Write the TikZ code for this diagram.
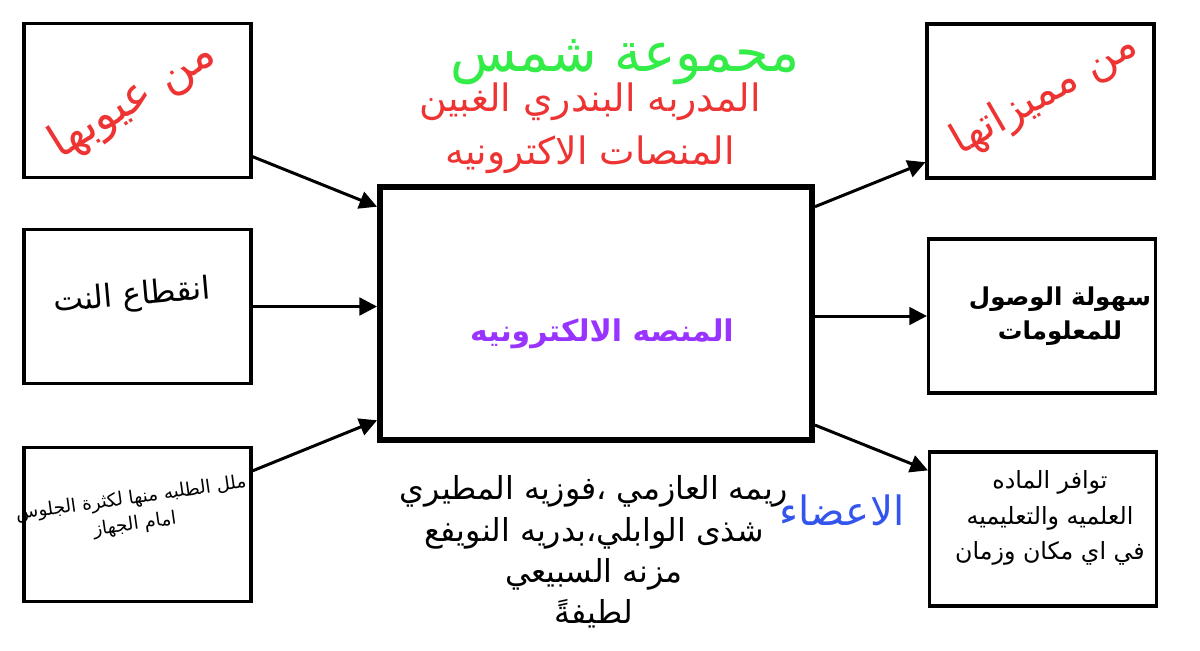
\documentclass[tikz,border=0pt]{standalone}
\usepackage{fontspec}
\usetikzlibrary{arrows.meta}
\newfontfamily\arabicfont[Script=Arabic]{DejaVu Sans}
\TeXXeTstate=1
\newcommand{\rtl}[1]{\beginR #1\endR}
\definecolor{titlegreen}{RGB}{51,236,72}
\definecolor{notered}{RGB}{238,51,51}
\definecolor{corepurple}{RGB}{153,51,255}
\definecolor{teamblue}{RGB}{51,85,238}

\begin{document}
\begin{tikzpicture}[x=0.02cm,y=-0.02cm,>={Triangle[length=10pt,width=10pt]},
  every node/.style={font=\arabicfont},
  box/.style={draw,line width=1.8pt,minimum width=4.54cm,minimum height=3.08cm,inner sep=0pt},
  link/.style={->,line width=1.7pt}]
\useasboundingbox (0,0) rectangle (1200,650);
% ==================== BOXES ====================
\node[box] (flaws) at (137.5,100.5) {};
\node[box] (cutoff) at (137.5,306.5) {};
\node[box] (boredom) at (137.5,524.5) {};
\node[box,line width=3.4pt,minimum width=8.64cm,minimum height=5.06cm] (core) at (596,313.5) {};
\node[box] (merits) at (1040.5,101) {};
\node[box] (access) at (1042,316) {};
\node[box] (avail) at (1043,529) {};
% ==================== ARROWS ====================
\draw[link] (flaws.-26.5) -- (core.154.3);
\draw[link] (cutoff.east) -- (cutoff.east -| core.west);
\draw[link] (boredom.25.2) -- (core.206.1);
\draw[link] (core.26.4) -- (merits.208.3);
\draw[link] (core.east |- access.west) -- (access.west);
\draw[link] (core.-27) -- (avail.153);
% ==================== TITLES ====================
\node[titlegreen,font=\arabicfont\fontsize{31}{35}\selectfont] (group) at (625,62) {\rtl{محموعة شمس}};
\node[notered,align=center,font=\arabicfont\fontsize{21.5}{30}\selectfont] (trainer) at (590,128)
  {\rtl{المدربه البندري الغبين}\\\rtl{المنصات الاكترونيه}};
% ==================== BOX TEXTS ====================
\node[notered,rotate=32,font=\arabicfont\fontsize{26}{30}\selectfont] (flawslbl) at (133,100) {\rtl{من عيوبها}};
\node[font=\arabicfont\fontsize{18}{22}\selectfont,rotate=5] (cutofflbl) at (132,297) {\rtl{انقطاع النت}};
\node[align=center,rotate=8,font=\arabicfont\fontsize{10.5}{15}\selectfont] (boredomlbl) at (133,512)
  {\rtl{ملل الطلبه منها لكثرة الجلوس}\\\rtl{امام الجهاز}};
\node[corepurple,font=\arabicfont\bfseries\fontsize{17}{21}\selectfont] (corelbl) at (602,334) {\rtl{المنصه الالكترونيه}};
\node[notered,rotate=30,font=\arabicfont\fontsize{24}{28}\selectfont] (meritslbl) at (1045,94) {\rtl{من مميزاتها}};
\node[align=center,font=\arabicfont\bfseries\fontsize{14}{19.5}\selectfont] (accesslbl) at (1060,316)
  {\rtl{سهولة الوصول}\\\rtl{للمعلومات}};
\node[align=center,font=\arabicfont\fontsize{13.5}{20}\selectfont] (availlbl) at (1050,518)
  {\rtl{توافر الماده}\\\rtl{العلميه والتعليميه}\\\rtl{في اي مكان وزمان}};
% ==================== MEMBERS ====================
\node[teamblue,font=\arabicfont\fontsize{23}{27}\selectfont] (teamlbl) at (842,510) {\rtl{الاعضاء}};
\node[align=center,font=\arabicfont\fontsize{18}{23.5}\selectfont] (names) at (594,552)
  {\rtl{ريمه العازمي ،فوزيه المطيري}\\\rtl{شذى الوابلي،بدريه النويفع}\\\rtl{مزنه السبيعي}\\\rtl{لطيفةً}};
\end{tikzpicture}
\end{document}
